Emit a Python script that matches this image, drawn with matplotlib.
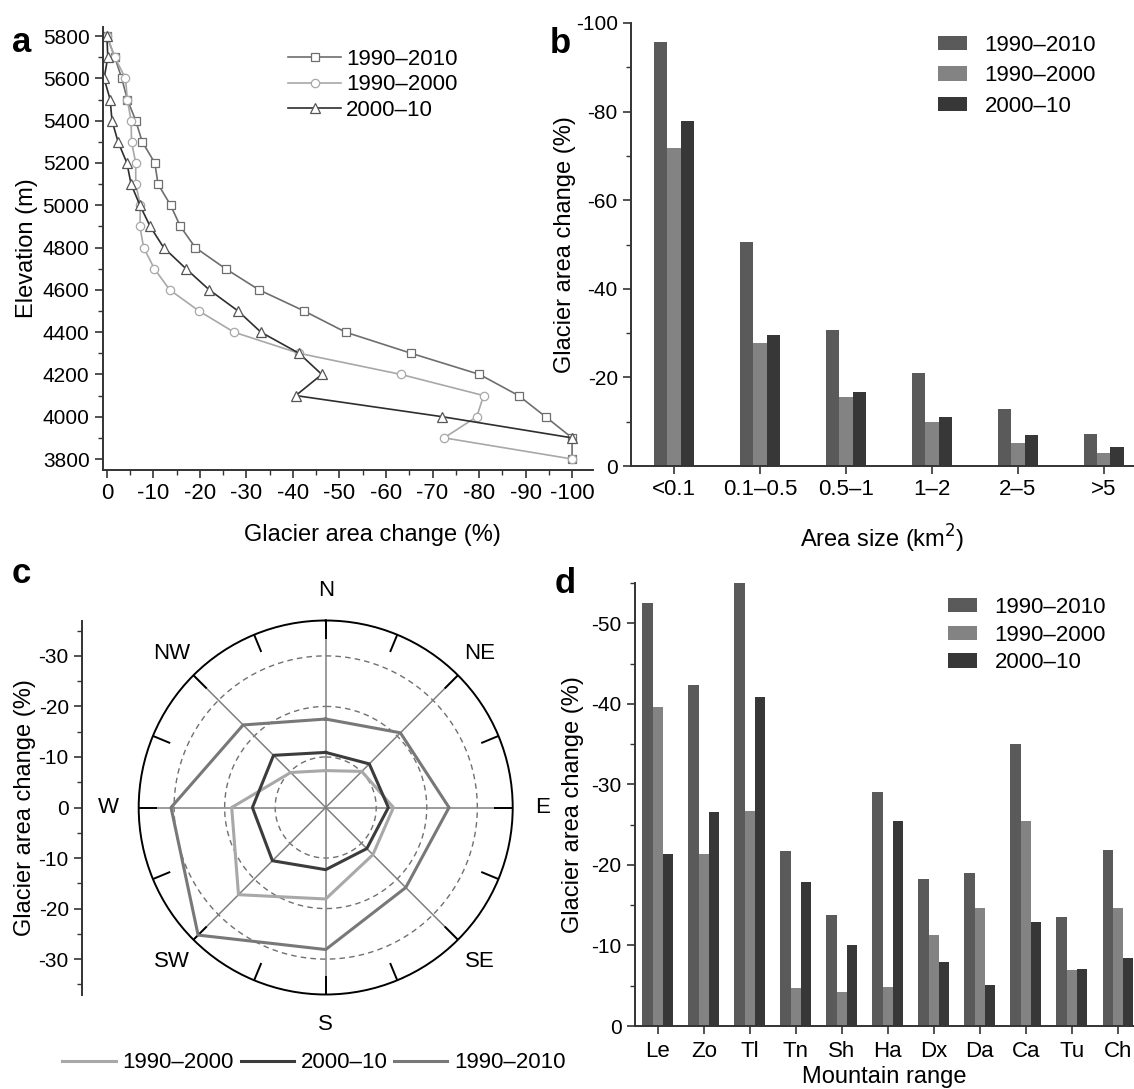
import numpy as np
import matplotlib.pyplot as plt
from matplotlib.lines import Line2D
from matplotlib.ticker import MultipleLocator

plt.rcParams['font.family'] = ['Liberation Sans', 'DejaVu Sans']
plt.rcParams['axes.unicode_minus'] = False

# ---- panel a: area change by elevation band
elev = [5800, 5700, 5600, 5500, 5400, 5300, 5200, 5100, 5000, 4900, 4800,
        4700, 4600, 4500, 4400, 4300, 4200, 4100, 4000, 3900, 3800]
a_1990_2010 = [0, -1.7, -3.2, -4.4, -6.2, -7.6, -10.3, -11.0, -13.7, -15.8, -19.0,
               -25.5, -32.7, -42.4, -51.3, -65.4, -80.1, -88.5, -94.3, -100, -100]
a_1990_2000 = [0, -1.7, -4.0, -4.4, -5.2, -5.3, -6.2, -6.2, -7.2, -7.1, -7.9,
               -10.2, -13.5, -19.8, -27.3, -41.3, -63.2, -81.0, -79.5, -72.5, -100]
elev_2000_10 = elev[:-1]
a_2000_10 = [0, -0.2, 0.6, -0.7, -1.1, -2.4, -4.3, -5.2, -7.1, -9.3, -12.2,
             -17.0, -22.0, -28.2, -33.1, -41.3, -46.2, -40.6, -72.1, -100]

# ---- panel b: area change by glacier size class
size_classes = ['<0.1', '0.1–0.5', '0.5–1', '1–2', '2–5', '>5']
b_1990_2010 = [-95.6, -50.5, -30.8, -21.1, -12.8, -7.2]
b_1990_2000 = [-71.8, -27.7, -15.6, -9.9, -5.3, -3.0]
b_2000_10 = [-77.9, -29.5, -16.7, -11.1, -7.1, -4.3]

# ---- panel c: area change by aspect
aspects = ['N', 'NE', 'E', 'SE', 'S', 'SW', 'W', 'NW']
c_1990_2000 = [-7.3, -10.1, -13.4, -13.2, -18.1, -24.4, -18.6, -9.8]
c_2000_10 = [-10.9, -12.2, -12.4, -11.5, -12.3, -14.9, -14.5, -14.6]
c_1990_2010 = [-17.5, -20.9, -24.4, -22.4, -28.1, -35.7, -30.6, -23.1]

# ---- panel d: area change by mountain range
ranges = ['Le', 'Zo', 'Tl', 'Tn', 'Sh', 'Ha', 'Dx', 'Da', 'Ca', 'Tu', 'Ch']
d_1990_2010 = [-52.5, -42.3, -55.0, -21.7, -13.8, -29.0, -18.3, -19.0, -35.0, -13.5, -21.8]
d_1990_2000 = [-39.6, -21.4, -26.7, -4.7, -4.2, -4.9, -11.3, -14.6, -25.4, -6.9, -14.6]
d_2000_10 = [-21.3, -26.6, -40.9, -17.9, -10.1, -25.4, -7.9, -5.1, -12.9, -7.1, -8.5]

col_9010 = '#5a5a5a'
col_9000 = '#838383'
col_0010 = '#373737'

W, H = 1134, 1089
fig = plt.figure(figsize=(W / 100, H / 100), dpi=100)


def box(x0, y0, x1, y1):
    # pixel box (top-left origin) -> figure fraction rect
    return [x0 / W, 1 - y1 / H, (x1 - x0) / W, (y1 - y0) / H]


def style_axes(ax):
    for s in ['top', 'right']:
        ax.spines[s].set_visible(False)
    for s in ['left', 'bottom']:
        ax.spines[s].set_color('#333333')
        ax.spines[s].set_linewidth(1.4)
    ax.tick_params(which='major', direction='out', length=6, width=1.2, color='#333333')
    ax.tick_params(which='minor', direction='out', length=3.5, width=1.0, color='#333333')


# ================= a
ax_a = fig.add_axes(box(102.7, 27, 593, 470))
style_axes(ax_a)
ax_a.plot(a_1990_2010, elev, color='#6e6e6e', lw=1.2, marker='s', ms=5.5,
          mfc='white', mec='#6e6e6e', mew=0.9, label='1990–2010')
ax_a.plot(a_1990_2000, elev, color='#a8a8a8', lw=1.2, marker='o', ms=6,
          mfc='white', mec='#a8a8a8', mew=0.9, label='1990–2000')
ax_a.plot(a_2000_10, elev_2000_10, color='#2e2e2e', lw=1.2, marker='^', ms=6.5,
          mfc='white', mec='#555555', mew=0.9, label='2000–10')
ax_a.set_xlim(0.9, -104.5)
ax_a.set_ylim(3748, 5843)
ax_a.set_xticks(np.arange(0, -101, -10))
ax_a.xaxis.set_minor_locator(MultipleLocator(5))
ax_a.set_yticks(np.arange(3800, 5801, 200))
ax_a.yaxis.set_minor_locator(MultipleLocator(100))
ax_a.tick_params(axis='x', labelsize=16)
ax_a.tick_params(axis='y', labelsize=15)
ax_a.set_xlabel('Glacier area change (%)', fontsize=17)
ax_a.set_ylabel('Elevation (m)', fontsize=17)
ax_a.xaxis.set_label_coords(0.55, -0.122)
ax_a.yaxis.set_label_coords(-0.132, 0.5)
ax_a.legend(loc='upper left', bbox_to_anchor=(288 / W, 1 - 49 / H),
            bbox_transform=fig.transFigure, frameon=False, fontsize=16,
            handlelength=2.4, handletextpad=0.2, labelspacing=0.2,
            borderpad=0, borderaxespad=0)

# ================= b
ax_b = fig.add_axes(box(631, 23, 1134, 466))
style_axes(ax_b)
xb = np.arange(len(size_classes))
wb = 0.153
ax_b.bar(xb - wb, b_1990_2010, wb, color=col_9010, label='1990–2010')
ax_b.bar(xb, b_1990_2000, wb, color=col_9000, label='1990–2000')
ax_b.bar(xb + wb, b_2000_10, wb, color=col_0010, label='2000–10')
ax_b.set_xlim(-0.5, 5.35)
ax_b.set_ylim(0, -100)
ax_b.set_yticks(np.arange(0, -101, -20))
ax_b.yaxis.set_minor_locator(MultipleLocator(10))
ax_b.set_xticks(xb)
ax_b.set_xticklabels(size_classes)
ax_b.tick_params(axis='x', labelsize=16)
ax_b.tick_params(axis='y', labelsize=15)
ax_b.set_xlabel('Area size (km$^2$)', fontsize=17)
ax_b.set_ylabel('Glacier area change (%)', fontsize=17)
ax_b.xaxis.set_label_coords(0.5, -0.129)
ax_b.yaxis.set_label_coords(-0.109, 0.5)
ax_b.legend(loc='upper left', bbox_to_anchor=(938 / W, 1 - 35 / H),
            bbox_transform=fig.transFigure, frameon=False, fontsize=16,
            handlelength=1.3, handleheight=0.6, handletextpad=0.8,
            labelspacing=0.42, borderpad=0, borderaxespad=0)

# ================= c
rmax = 37
ax_c = fig.add_axes(box(325.7 - 187, 807.5 - 187, 325.7 + 187, 807.5 + 187), projection='polar')
ax_c.set_theta_zero_location('N')
ax_c.set_theta_direction(-1)
ax_c.set_ylim(0, rmax)
ax_c.grid(False)
ax_c.set_xticks([])
ax_c.set_yticks([])
ax_c.spines['polar'].set_color('black')
ax_c.spines['polar'].set_linewidth(1.4)
theta = np.deg2rad(np.arange(0, 360, 45))
ring = np.linspace(0, 2 * np.pi, 361)
for r in [10, 20, 30]:
    ax_c.plot(ring, np.full_like(ring, r), color='#707070', lw=1.0, ls=(0, (4, 3)))
for t in theta:
    ax_c.plot([t, t], [0, rmax], color='#808080', lw=1.1)
for t in np.deg2rad(np.arange(0, 360, 22.5)):
    ax_c.plot([t, t], [rmax - 3.5, rmax], color='black', lw=1.4)
th_closed = np.append(theta, theta[0])
for vals, col in [(c_1990_2000, '#a8a8a8'), (c_2000_10, '#3c3c3c'), (c_1990_2010, '#787878')]:
    r = -np.array(vals)
    ax_c.plot(th_closed, np.append(r, r[0]), color=col, lw=2.2)
for t, lab in zip(theta, aspects):
    ax_c.text(t, 43, lab, ha='center', va='center', fontsize=16, clip_on=False)

ax_cl = fig.add_axes(box(82, 807.5 - 187, 83, 807.5 + 187))
for s in ['top', 'right', 'bottom']:
    ax_cl.spines[s].set_visible(False)
ax_cl.spines['left'].set_color('#333333')
ax_cl.spines['left'].set_linewidth(1.4)
ax_cl.patch.set_alpha(0)
ax_cl.set_xticks([])
ax_cl.set_ylim(-rmax, rmax)
c_ticks = np.arange(-30, 31, 10)
ax_cl.set_yticks(c_ticks)
ax_cl.set_yticklabels(['-%d' % abs(v) if v != 0 else '0' for v in c_ticks])
ax_cl.yaxis.set_minor_locator(MultipleLocator(5))
ax_cl.tick_params(which='major', direction='out', length=6, width=1.2, color='#333333', labelsize=15)
ax_cl.tick_params(which='minor', direction='out', length=3.5, width=1.0, color='#333333')
fig.text(25 / W, 1 - 807.5 / H, 'Glacier area change (%)', rotation=90,
         ha='center', va='center', fontsize=17)

handles = [Line2D([], [], color='#a8a8a8', lw=2.2),
           Line2D([], [], color='#3c3c3c', lw=2.2),
           Line2D([], [], color='#787878', lw=2.2)]
fig.legend(handles, ['1990–2000', '2000–10', '1990–2010'], loc='center',
           bbox_to_anchor=(314 / W, 1 - 1063 / H), ncol=3, frameon=False,
           fontsize=16, handlelength=2.4, handletextpad=0.3, columnspacing=0.3,
           borderpad=0)

# ================= d
ax_d = fig.add_axes(box(634.8, 583, 1134, 1026))
style_axes(ax_d)
xd = np.arange(len(ranges))
wd = 0.223
ax_d.bar(xd - wd, d_1990_2010, wd, color=col_9010, label='1990–2010')
ax_d.bar(xd, d_1990_2000, wd, color=col_9000, label='1990–2000')
ax_d.bar(xd + wd, d_2000_10, wd, color=col_0010, label='2000–10')
ax_d.set_xlim(-0.5, 10.35)
ax_d.set_ylim(0, -55)
ax_d.set_yticks(np.arange(0, -51, -10))
ax_d.yaxis.set_minor_locator(MultipleLocator(5))
ax_d.set_xticks(xd)
ax_d.set_xticklabels(ranges)
ax_d.tick_params(axis='x', labelsize=16, pad=5)
ax_d.tick_params(axis='y', labelsize=15)
ax_d.set_xlabel('Mountain range', fontsize=17)
ax_d.set_ylabel('Glacier area change (%)', fontsize=17)
ax_d.xaxis.set_label_coords(0.5, -0.09)
ax_d.yaxis.set_label_coords(-0.102, 0.5)
ax_d.legend(loc='upper left', bbox_to_anchor=(948 / W, 1 - 597 / H),
            bbox_transform=fig.transFigure, frameon=False, fontsize=16,
            handlelength=1.3, handleheight=0.6, handletextpad=0.8,
            labelspacing=0.3, borderpad=0, borderaxespad=0)

# panel letters
for x, y, s in [(12, 52, 'a'), (550, 53, 'b'), (12, 583, 'c'), (555, 593, 'd')]:
    fig.text(x / W, 1 - y / H, s, fontsize=25, fontweight='bold', ha='left', va='baseline')

fig.savefig('out.png', dpi=100, facecolor='white')
